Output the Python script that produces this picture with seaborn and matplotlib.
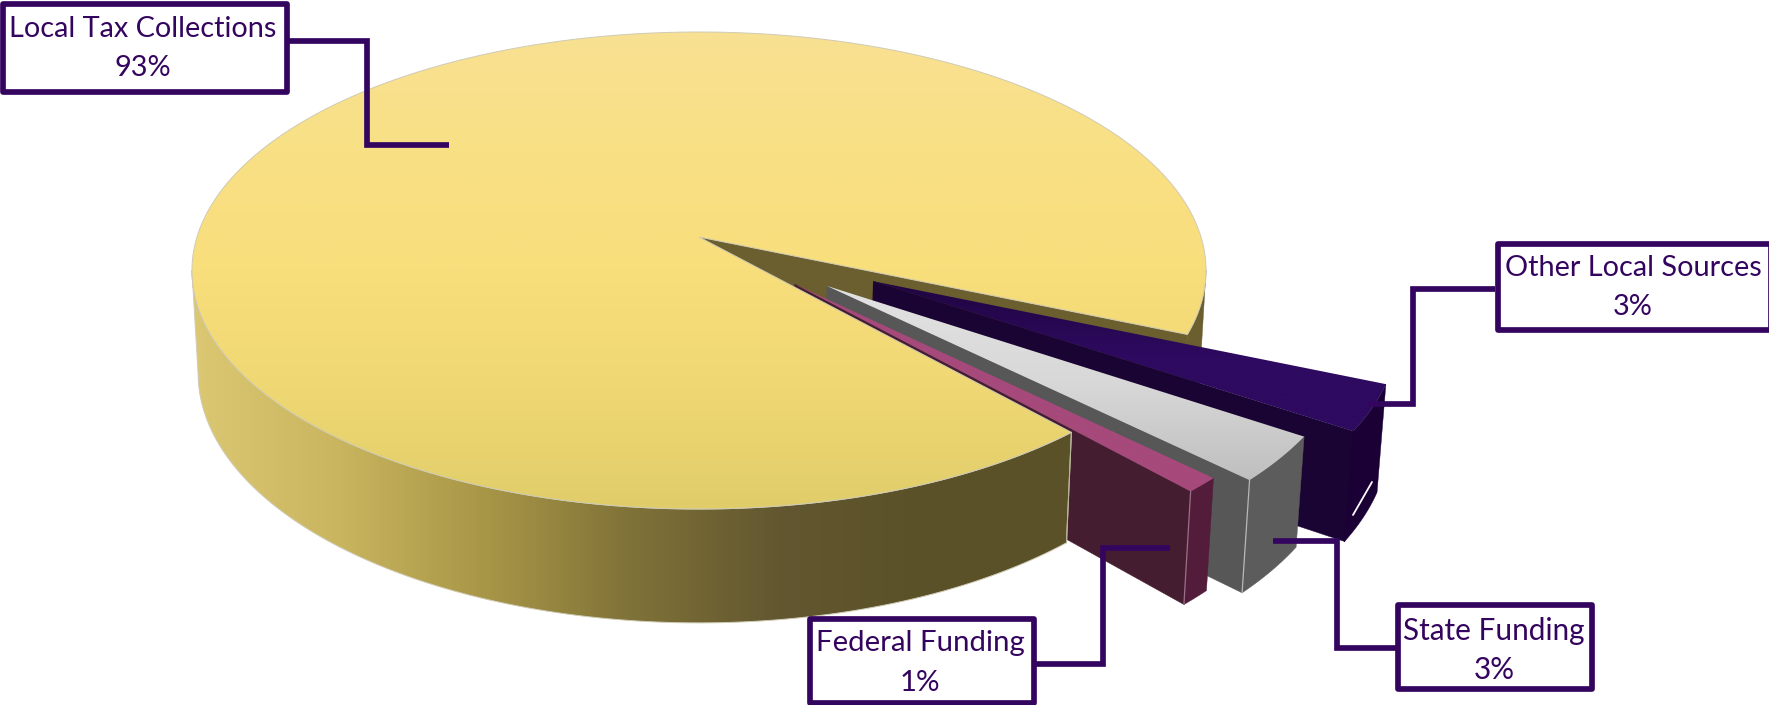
import numpy as np
import matplotlib
matplotlib.use("Agg")
import matplotlib.pyplot as plt
from matplotlib.patches import Polygon, Rectangle
import seaborn as sns

# Revenue shares, in the order the slices run clockwise from the start angle
sources = ["Other Local Sources", "State Funding", "Federal Funding", "Local Tax Collections"]
shares = [3, 3, 1, 93]
explode = [0.385, 0.32, 0.27, 0.0]
start_angle = 23.2

# Projection of the tilted disc onto the canvas
APEX_X, APEX_Y = 699.0, 237.0
RADIUS_X, RADIUS_Y = 502.0, 233.8
DEPTH = 102.5
PERSP_V, PERSP_H = 0.1405, 0.012

INK = "#34055F"
LINE_W = 4.1
sns.set_theme(style="white")
plt.rcParams["font.family"] = ["Lato", "DejaVu Sans"]

fig = plt.figure(figsize=(17.69, 7.05), dpi=100)
ax = fig.add_axes([0, 0, 1, 1])


def project(u, v, h=0.0):
    w = 1 - PERSP_V * np.asarray(v) + PERSP_H * h
    return APEX_X + RADIUS_X * np.asarray(u) / w, APEX_Y + (RADIUS_Y * np.asarray(v) + DEPTH * h) / w


def rim(a0, a1, offset, h=0.0, n=120):
    t = np.radians(np.linspace(a0, a1, n))
    x, y = project(offset[0] + np.cos(t), offset[1] + np.sin(t), h)
    return np.column_stack([x, y])


def point(offset, h=0.0):
    x, y = project(offset[0], offset[1], h)
    return np.array([[float(x), float(y)]])


def fill(pts, color, zorder):
    ax.add_patch(Polygon(pts, closed=True, facecolor=color, edgecolor=color, linewidth=0.3, zorder=zorder))


def gradient(pts, colors, zorder, axis="y", edge=None, lw=0.8):
    cmap = sns.blend_palette(colors, n_colors=256, as_cmap=True)
    x0, y0 = pts.min(axis=0)
    x1, y1 = pts.max(axis=0)
    ramp = np.linspace(0, 1, 256)
    ramp = ramp[:, None] if axis == "y" else ramp[None, :]
    im = ax.imshow(ramp, cmap=cmap, extent=(x0, x1, y1, y0), origin="upper", aspect="auto", zorder=zorder)
    im.set_clip_path(Polygon(pts, closed=True, transform=ax.transData))
    if edge:
        ax.add_patch(Polygon(pts, closed=True, fill=False, edgecolor=edge, linewidth=lw, zorder=zorder))


# Slice angular extents from the shares
fractions = np.array(shares, dtype=float) / np.sum(shares) * 360
edges = start_angle + np.concatenate([[0], np.cumsum(fractions)])

# Angle at which the rim turns away from the viewer on either side of the disc
turn = np.degrees(np.arcsin(PERSP_V))

# Main slice: back cut face and the short stretch of wall behind it
a0, a1 = edges[3], edges[4]
o0 = (0.0, 0.0)
cut = np.vstack([point(o0), rim(a1, a1, o0, n=1), rim(a1, a1, o0, h=1, n=1), point(o0, h=1)])
fill(cut, "#6B5F30", 1)
back = np.vstack([rim(360 + turn, a1, o0), rim(360 + turn, a1, o0, h=1)[::-1]])
fill(back, "#6B5F30", 1)

# Exploded slices, far to near
styles = {
    "Other Local Sources": dict(top=["#1F0540", "#2E0A60", "#2E0A60"], cut="#1A0433", wall="#1B0035", seam="#1B0035"),
    "State Funding": dict(top=["#E2E2E2", "#D8D8D8", "#BFBFBF"], cut="#575757", wall="#5C5C5C", seam="#B8B8B8"),
    "Federal Funding": dict(top=["#A6497B", "#A6497B", "#A6497B"], cut="#451D30", wall="#521C3A", seam="#9A7088"),
}
for i, name in enumerate(sources[:3]):
    a, b = edges[i], edges[i + 1]
    mid = np.radians((a + b) / 2)
    off = (explode[i] * np.cos(mid), explode[i] * np.sin(mid))
    st = styles[name]
    z = 2 + i
    cut_face = np.vstack([point(off), rim(b, b, off, n=1), rim(b, b, off, h=1, n=1), point(off, h=1)])
    fill(cut_face, st["cut"], z)
    wall = np.vstack([rim(a, b, off), rim(a, b, off, h=1)[::-1]])
    fill(wall, st["wall"], z)
    seam = np.vstack([rim(b, b, off, n=1), rim(b, b, off, h=1, n=1)])
    ax.plot(seam[:, 0], seam[:, 1], color=st["seam"], lw=0.9, zorder=z + 0.2)
    top = np.vstack([point(off), rim(a, b, off)])
    gradient(top, st["top"], z + 0.1)

# Main slice: front wall and top face
front = np.vstack([rim(a0, 180 - turn, o0), rim(a0, 180 - turn, o0, h=1)[::-1]])
gradient(front, ["#DCC872", "#C9B55F", "#A89647", "#7F7238", "#625730", "#5B5128", "#5B5128"], 6, axis="x",
         edge="#CFCBB5", lw=0.7)
seam = np.vstack([rim(a0, a0, o0, n=1), rim(a0, a0, o0, h=1, n=1)])
ax.plot(seam[:, 0], seam[:, 1], color="#B9B59C", lw=0.8, zorder=6.2)
top = np.vstack([point(o0), rim(a0, a1, o0, n=400)])
gradient(top, ["#F8E193", "#F9E085", "#F9DE7C", "#EFD873", "#E0CD6A"], 7, edge="#CFCBB5", lw=0.7)

# Thin highlight on the outer wall of the far slice
ax.plot([1372, 1353], [482, 515], color="white", lw=1.3, zorder=8)

# Callout leaders and label boxes
leaders = [
    [(287, 41), (367, 41), (367, 145), (449, 145)],
    [(1495, 289), (1413, 289), (1413, 404), (1367, 404)],
    [(1396, 648), (1337, 648), (1337, 541), (1273, 541)],
    [(1034, 664), (1103, 664), (1103, 548), (1170, 548)],
]
boxes = [(3, 4, 284, 88), (1498, 244, 273, 86), (1398, 605, 194, 84), (810, 619, 224, 84)]
label_xy = [(143, 29, 68), (1633, 268, 307), (1494, 631, 670), (920, 643, 683)]
label_src = ["Local Tax Collections", "Other Local Sources", "State Funding", "Federal Funding"]
label_size = [20.8, 20.8, 21.4, 21.2]

for pts in leaders:
    xs, ys = zip(*pts)
    ax.plot(xs, ys, color=INK, lw=LINE_W, solid_joinstyle="miter", solid_capstyle="butt", zorder=9)
for (x, y, w, h), name, (tx, ty1, ty2), fs in zip(boxes, label_src, label_xy, label_size):
    ax.add_patch(Rectangle((x, y), w, h, facecolor="white", edgecolor=INK, linewidth=LINE_W, joinstyle="round", zorder=10))
    ax.text(tx, ty1, name, color=INK, fontsize=fs, ha="center", va="center", zorder=11)
    ax.text(tx, ty2, f"{shares[sources.index(name)]}%", color=INK, fontsize=fs, ha="center", va="center", zorder=11)

ax.set_xlim(0, 1769)
ax.set_ylim(705, 0)
ax.axis("off")
fig.savefig("out.png", dpi=100, facecolor="white")
